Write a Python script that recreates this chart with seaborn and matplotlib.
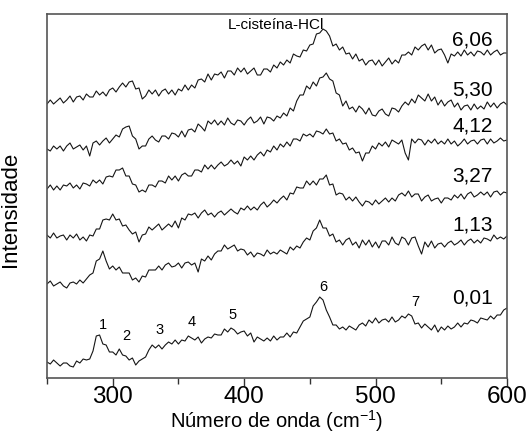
import numpy as np
import pandas as pd
import matplotlib
matplotlib.use("Agg")
import matplotlib.pyplot as plt
import seaborn as sns

# Raman shift axis (cm^-1), 2.5 cm^-1 steps from 250 to 600
wavenumber = np.arange(250, 600.01, 2.5)

# intensities (arbitrary units, already vertically offset)
s_001 = [16,14,18,15,12,15,15,12,11,17,
         15,19,18,19,27,42,43,34,33,26,
         26,23,29,23,22,18,20,13,17,19,
         21,28,33,30,33,29,33,36,34,38,
         34,38,37,42,40,38,41,35,39,41,
         40,44,43,43,49,46,50,48,44,46,
         47,42,45,36,41,39,37,40,37,42,
         38,41,41,45,41,46,45,51,57,59,
         61,72,76,81,78,68,61,53,53,49,
         51,48,52,50,48,53,55,52,58,55,
         60,55,58,59,56,61,56,58,62,60,
         64,62,54,55,50,54,51,48,53,46,
         51,48,52,49,51,55,51,55,54,58,
         57,55,60,59,58,62,59,63,63,68,
         70]
s_113 = [94,97,92,94,96,92,90,95,96,94,
         98,95,99,103,105,117,119,127,117,109,
         112,108,111,105,105,105,98,100,96,102,
         101,108,108,108,112,108,113,115,111,112,
         115,110,115,116,113,115,106,119,117,122,
         118,124,127,127,133,129,131,133,127,129,
         128,123,126,121,125,124,122,128,124,126,
         124,128,126,124,131,128,132,130,136,140,
         138,147,150,158,150,150,142,144,136,138,
         133,138,140,133,136,130,138,133,138,131,
         136,130,137,137,133,141,135,133,141,139,
         133,140,141,132,124,136,131,137,130,134,
         135,131,135,137,133,135,138,133,137,139,
         135,138,135,140,139,137,143,139,141,139,
         142]
s_327 = [143,140,145,140,142,143,138,143,140,144,
         138,141,137,143,142,149,149,158,159,158,
         164,158,159,152,153,148,144,146,136,143,
         144,151,148,151,154,148,151,154,151,157,
         150,160,158,164,163,165,160,165,168,163,
         165,161,165,167,163,166,169,166,164,170,
         168,172,168,171,168,173,176,171,174,178,
         175,179,182,178,185,184,191,190,190,197,
         193,197,193,199,199,203,193,194,183,185,
         184,178,181,177,181,176,172,177,176,173,
         178,174,177,180,176,180,177,183,185,182,
         187,181,184,184,177,181,183,177,179,180,
         175,180,180,178,183,180,184,179,184,186,
         181,183,186,183,186,181,186,187,183,186,
         185]
s_412 = [189,193,188,192,188,193,192,195,190,193,
         189,195,194,192,198,195,198,194,201,202,
         201,208,208,210,202,202,194,193,186,188,
         186,193,193,191,197,197,195,202,198,202,
         197,203,205,202,202,208,208,206,213,209,
         213,209,213,216,212,214,218,214,217,212,
         221,218,222,218,223,226,222,228,226,232,
         228,234,231,236,232,239,239,237,244,242,
         244,241,247,246,244,249,244,245,237,239,
         234,235,228,230,225,226,217,225,225,232,
         229,235,232,236,231,238,236,234,238,225,
         218,239,235,239,238,233,238,235,239,234,
         237,234,239,234,237,232,235,239,234,237,
         238,234,238,239,234,239,235,237,240,237,
         238]
s_530 = [229,227,232,229,232,227,232,235,229,231,
         233,228,232,222,235,237,233,237,240,235,
         239,243,241,249,251,252,242,239,229,232,
         232,239,242,238,236,242,242,239,245,244,
         241,247,241,248,249,246,254,251,247,257,
         254,258,253,257,253,260,255,253,258,257,
         253,258,261,255,257,261,254,261,260,257,
         262,260,265,262,270,267,277,283,283,292,
         289,296,292,300,301,305,299,297,285,283,
         272,277,269,271,266,272,269,264,270,263,
         262,267,269,264,262,270,269,266,272,276,
         273,279,275,283,280,277,284,277,281,273,
         278,272,276,278,271,275,268,272,273,268,
         274,269,272,269,276,271,275,270,274,276,
         273]
s_606 = [274,278,274,277,280,275,278,282,276,281,
         282,278,284,281,281,287,283,286,282,288,
         290,286,291,295,291,296,297,289,290,279,
         282,288,284,288,282,287,289,284,288,283,
         289,287,293,288,293,290,298,299,296,304,
         298,304,303,306,300,307,307,303,310,306,
         310,304,307,310,303,303,309,309,306,313,
         310,316,313,318,315,324,322,321,328,327,
         333,334,344,345,349,347,342,332,334,328,
         331,324,325,319,324,317,319,313,317,318,
         313,318,312,316,320,314,318,315,323,323,
         326,323,331,328,332,334,328,333,325,328,
         329,323,315,324,322,326,322,328,323,326,
         322,327,326,323,328,323,326,328,323,325,
         325]

sample_labels = ["0,01", "1,13", "3,27", "4,12", "5,30", "6,06"]
label_y = [80, 153, 202, 252, 288, 338]

peak_names = ["1", "2", "3", "4", "5", "6", "7"]
peak_x = [292.6, 310.1, 336.0, 360.3, 391.5, 460.6, 530.6]
peak_y = [53, 42, 48, 56, 63, 91, 76]

series = [s_001, s_113, s_327, s_412, s_530, s_606]
frames = []
for lab, vals in zip(sample_labels, series):
    frames.append(pd.DataFrame({"x": wavenumber, "y": vals, "amostra": lab}))
df = pd.concat(frames, ignore_index=True)

sns.set_theme(style="white")
plt.rcParams["font.family"] = ["Liberation Sans", "DejaVu Sans"]
plt.rcParams["mathtext.default"] = "regular"
plt.rcParams["text.color"] = "black"
plt.rcParams["axes.labelcolor"] = "black"

fig = plt.figure(figsize=(5.31, 4.36), dpi=100)
ax = fig.add_axes([47/531, 1 - 378/436, 460/531, 364/436])

sns.lineplot(data=df, x="x", y="y", hue="amostra", units="amostra", estimator=None,
             palette=["#151515"] * len(sample_labels), linewidth=0.8, legend=False,
             sort=True, ax=ax)

ax.set_xlim(250, 600)
ax.set_ylim(0, 364)
ax.set_yticks([])
ax.set_xticks([300, 400, 500, 600])
ax.set_xticks([250, 350, 450, 550], minor=True)
ax.tick_params(axis="x", which="major", direction="out", length=6, width=1.0,
               labelsize=17.5, colors="#333333", labelcolor="black", pad=0, bottom=True)
ax.tick_params(axis="x", which="minor", direction="out", length=4, width=1.0,
               colors="#333333", bottom=True)
for sp in ax.spines.values():
    sp.set_visible(True)
    sp.set_color("#555555")
    sp.set_linewidth(1.2)

ax.set_xlabel("Número de onda (cm$^{-1}$)", fontsize=14.5)
ax.xaxis.set_label_coords(0.5, -0.082)
ax.set_ylabel("Intensidade", fontsize=16)
ax.yaxis.set_label_coords(-0.056, 0.463)

ax.text(424, 353, "L-cisteína-HCl", fontsize=11, ha="center", va="center")

for lab, yy in zip(sample_labels, label_y):
    ax.text(589, yy, lab, fontsize=15, ha="right", va="center")

for nm, px, py in zip(peak_names, peak_x, peak_y):
    ax.text(px, py, nm, fontsize=10.5, ha="center", va="center")

fig.savefig("out.png", dpi=100)
